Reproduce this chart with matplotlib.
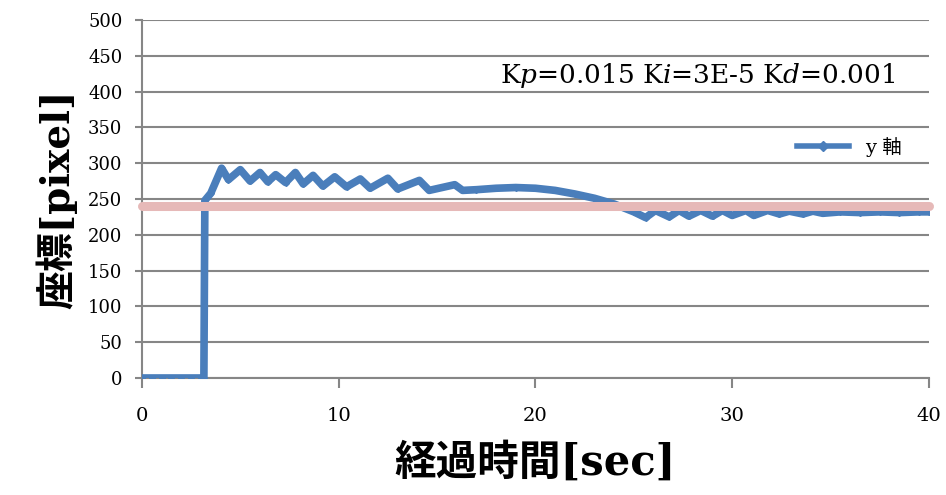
import matplotlib
matplotlib.use('Agg')
import matplotlib.pyplot as plt

plt.rcParams['font.family'] = ['DejaVu Serif', 'Noto Sans CJK JP']
plt.rcParams['mathtext.fontset'] = 'dejavuserif'

# measured y position of the tracked object
t = [0, 0.5, 1.0, 1.5, 2.0, 2.5, 3.0, 3.15, 3.2, 3.5, 4.05, 4.4, 5.0, 5.5, 6.0,
     6.4, 6.8, 7.3, 7.8, 8.2, 8.7, 9.2, 9.8, 10.4, 11.1, 11.6, 12.5, 13.0,
     14.1, 14.6, 15.9, 16.3, 17.0, 18.0, 19.0, 20.0, 21.0, 22.0, 23.0, 24.0,
     25.0, 25.6, 26.1, 26.8, 27.3, 27.8, 28.4, 29.0, 29.5, 30.0, 30.7, 31.1,
     31.8, 32.4, 32.9, 33.6, 34.1, 34.6, 35.5, 36.5, 37.5, 38.5, 39.5, 40.0]
y = [0, 0, 0, 0, 0, 0, 0, 0, 248, 258, 293, 277, 291, 275, 287,
     274, 284, 273, 287, 271, 283, 268, 281, 267, 278, 265, 279, 264,
     276, 262, 270, 262, 263, 265, 266, 265, 262, 257, 251, 243,
     232, 224, 234, 225, 234, 226, 234, 226, 234, 227, 234, 227,
     234, 229, 233, 229, 233, 230, 232, 231, 232, 231, 232, 232]

# target value
target_t = [0, 40]
target_y = [240, 240]

fig = plt.figure(figsize=(9.46, 4.95), dpi=100)
ax = fig.add_axes([0.150, 0.2364, 0.832, 0.7232])

ax.plot(t, y, color='#4A7EBB', linewidth=5.5, marker='D', markersize=3,
        solid_joinstyle='round', label='y 軸', zorder=3)
ax.plot(target_t, target_y, color='#E6B9B8', linewidth=6.5,
        solid_capstyle='round', clip_on=False, zorder=4)

ax.set_xlim(0, 40)
ax.set_ylim(0, 500)
ax.set_yticks(range(0, 501, 50))
ax.set_xticks([0, 10, 20, 30, 40])
ax.grid(True, axis='y', color='#868686', linewidth=1.5)
ax.set_axisbelow(True)

for s in ['top', 'right']:
    ax.spines[s].set_visible(False)
for s in ['left', 'bottom']:
    ax.spines[s].set_color('#868686')
    ax.spines[s].set_linewidth(1.5)

ax.tick_params(axis='y', length=5, width=1.5, color='#868686', pad=9,
               labelsize=13)
ax.tick_params(axis='x', length=7, width=1.5, color='#868686', pad=14,
               labelsize=14)

ax.set_xlabel('経過時間[sec]', fontsize=30, fontweight='bold', labelpad=12)
ax.set_ylabel('座標[pixel]', fontsize=28, fontweight='bold', labelpad=8)

ax.text(18.2, 412, r'K$\mathit{p}$=0.015 K$\mathit{i}$=3E-5 K$\mathit{d}$=0.001',
        fontsize=19, ha='left', va='baseline')

leg = ax.legend(loc='center right', bbox_to_anchor=(0.975, 0.645), frameon=False,
                fontsize=14, handlelength=2.7, borderaxespad=0, markerscale=1.8)
leg.get_lines()[0].set_linewidth(4)

fig.savefig('out.png', dpi=100)
